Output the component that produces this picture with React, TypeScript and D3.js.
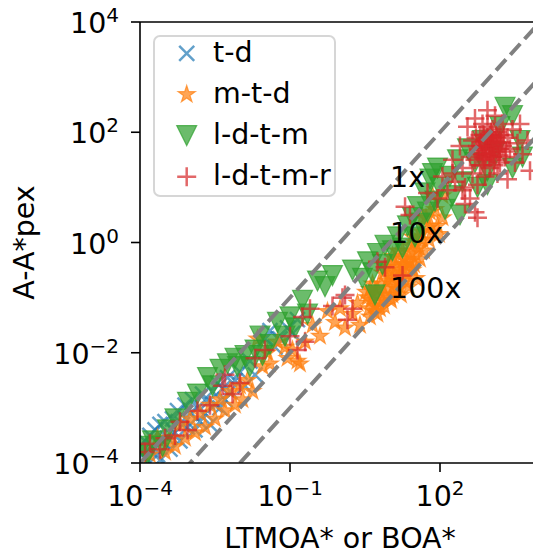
import React from 'react';
import * as d3 from 'd3';

const seriesNames = ['t-d', 'm-t-d', 'l-d-t-m', 'l-d-t-m-r'];
const seriesColors = ['#1f77b4', '#ff7f0e', '#2ca02c', '#d62728'];

// t-d  [x, y]
const tdPoints: [number, number][] = [
  [1.12e-4, 1.41e-4], [1.26e-4, 2.51e-4], [1.41e-4, 1.12e-4], [1.58e-4, 3.16e-4], [1.78e-4, 2.0e-4],
  [2.0e-4, 3.98e-4], [2.24e-4, 1.41e-4], [2.51e-4, 5.01e-4], [2.82e-4, 2.51e-4], [3.16e-4, 5.62e-4],
  [3.55e-4, 2.82e-4], [3.98e-4, 1.78e-4], [4.47e-4, 6.31e-4], [5.01e-4, 3.55e-4], [5.62e-4, 8.91e-4],
  [6.31e-4, 2.51e-4], [7.08e-4, 5.01e-4], [7.94e-4, 1.12e-3], [8.91e-4, 4.47e-4], [1.0e-3, 7.94e-4],
  [1.12e-3, 1.41e-3], [1.26e-3, 3.98e-4], [1.41e-3, 1.0e-3], [1.58e-3, 5.62e-4], [1.78e-3, 1.78e-3],
  [2.0e-3, 7.94e-4], [2.24e-3, 1.26e-3], [2.51e-3, 5.01e-4], [2.82e-3, 2.0e-3], [3.16e-3, 1.12e-3],
  [3.55e-3, 2.82e-3], [3.98e-3, 1.0e-3], [4.47e-3, 2.24e-3], [5.01e-3, 1.41e-3], [5.62e-3, 3.55e-3],
  [6.31e-3, 2.0e-3], [7.94e-3, 3.16e-3], [1.0e-2, 4.47e-3], [1.26e-2, 2.51e-3], [1.58e-2, 7.08e-3],
  [2.0e-2, 3.98e-3], [3.16e-2, 1.78e-2], [3.98e-2, 2.51e-2], [5.01e-2, 1.26e-2], [6.31e-2, 1.78e-2],
  [8.91e-2, 2.82e-2], [0.112, 2.24e-2], [0.141, 3.98e-2], [2.51e-4, 1.12e-4],
];

// m-t-d
const mtdPoints: [number, number][] = [
  [1.58e-4, 1.41e-4], [2.24e-4, 2.82e-4], [3.16e-4, 1.58e-4], [3.98e-4, 2.82e-4], [5.01e-4, 2.0e-4],
  [6.31e-4, 5.01e-4], [7.94e-4, 2.82e-4], [1.0e-3, 6.31e-4], [1.26e-3, 3.55e-4], [1.58e-3, 7.94e-4],
  [2.0e-3, 4.47e-4], [2.51e-3, 1.12e-3], [3.16e-3, 6.31e-4], [3.98e-3, 1.41e-3], [5.01e-3, 8.91e-4],
  [6.31e-3, 2.0e-3], [7.94e-3, 1.12e-3], [1.0e-2, 2.51e-3], [1.12e-2, 1.41e-3], [1.41e-2, 3.16e-3],
  [1.78e-2, 2.0e-3], [2.24e-2, 1.78e-2], [2.82e-2, 5.62e-3], [3.55e-2, 1.0e-2], [3.98e-2, 6.31e-3],
  [5.62e-2, 1.58e-2], [7.94e-2, 1.26e-2], [8.91e-2, 7.94e-3], [0.112, 1.12e-2], [0.141, 7.08e-3],
  [0.158, 6.31e-3], [0.2, 1.58e-2], [0.282, 3.16e-2], [0.398, 2.0e-2], [0.562, 5.62e-2],
  [0.794, 3.55e-2], [1.0, 6.31e-2], [1.26, 2.82e-2], [1.78, 5.01e-2], [2.24, 7.94e-2],
  [2.51, 3.16e-2], [3.55, 0.1], [3.98, 4.47e-2], [4.47, 0.178], [5.01, 7.08e-2],
  [5.62, 0.141], [6.31, 6.31e-2], [7.08, 0.282], [7.94, 0.112], [8.91, 0.2],
  [10.0, 0.398], [10.0, 0.1], [11.2, 0.224], [12.6, 0.501], [14.1, 0.141],
  [15.8, 0.316], [17.8, 0.708], [20.0, 0.2], [22.4, 0.447], [25.1, 0.891],
  [28.2, 0.316], [31.6, 0.631], [35.5, 1.26], [39.8, 0.501], [44.7, 2.82],
  [44.7, 1.12], [56.2, 1.78], [63.1, 3.55], [70.8, 7.08], [89.1, 2.0],
  [112, 2.82], [112, 7.08], [5.01, 0.126], [7.08, 8.91e-2], [8.91, 0.355],
  [12.6, 0.251], [15.8, 0.158], [20.0, 0.398], [25.1, 0.447], [31.6, 1.0],
  [3.98, 0.141], [11.2, 0.562],
  [4.17, 8.91e-2], [4.79, 5.62e-2], [5.25, 0.112], [6.03, 7.94e-2], [6.61, 0.178],
  [7.59, 7.08e-2], [8.32, 0.141], [9.55, 0.251], [10.5, 8.91e-2], [12.0, 0.158],
  [13.2, 0.355], [15.1, 0.2], [16.6, 0.112], [19.1, 0.501], [20.9, 0.282],
  [24.0, 0.158], [26.3, 0.631], [30.2, 0.398], [33.1, 0.224], [38.0, 0.794],
  [41.7, 1.58], [47.9, 0.708], [52.5, 2.82], [60.3, 1.12], [66.1, 2.0],
  [79.4, 3.98], [95.5, 1.41], [3.8, 6.31e-2], [3.31, 0.126], [5.62, 5.01e-2],
  [11.2, 0.112], [17.8, 0.355], [28.2, 1.26], [14.1, 0.708],
];

// l-d-t-m
const ldtmPoints: [number, number][] = [
  [1.12e-4, 2.0e-4], [1.41e-4, 1.41e-4], [1.78e-4, 2.51e-4], [2.82e-4, 2.0e-4], [3.55e-4, 3.98e-4],
  [5.01e-4, 6.31e-4], [8.91e-4, 1.26e-3], [1.41e-3, 1.78e-3], [2.24e-3, 3.55e-3], [2.82e-3, 2.51e-3],
  [3.98e-3, 5.01e-3], [5.62e-3, 6.31e-3], [7.94e-3, 7.94e-3], [8.91e-3, 5.62e-3], [1.26e-2, 8.91e-3],
  [1.58e-2, 5.62e-3], [2.0e-2, 1.12e-2], [2.51e-2, 2.0e-2], [2.82e-2, 8.91e-3], [3.98e-2, 1.41e-2],
  [5.62e-2, 3.55e-2], [7.94e-2, 2.0e-2], [0.1, 4.47e-2], [0.126, 2.82e-2], [0.178, 8.91e-2],
  [0.224, 5.01e-2], [0.355, 0.2], [0.501, 0.158], [0.708, 0.251], [1.78, 0.316],
  [2.82, 0.224], [3.55, 0.447], [4.47, 0.282], [5.01, 0.112], [5.62, 0.631],
  [7.08, 0.398], [7.94, 0.891], [11.2, 0.708], [14.1, 1.26], [17.8, 0.794],
  [22.4, 2.0], [28.2, 2.82], [31.6, 1.26], [35.5, 4.47], [39.8, 2.24],
  [50.1, 7.94], [56.2, 3.55], [63.1, 14.1], [70.8, 17.8], [79.4, 5.62],
  [89.1, 22.4], [100, 10.0], [126, 3.98], [158, 15.8], [178, 7.08],
  [224, 31.6], [251, 3.16], [282, 12.6], [355, 50.1], [501, 28.2],
  [562, 10.0], [708, 70.8], [891, 11.2], [891, 20.0], [1260, 44.7],
  [2000, 282], [2820, 200], [3980, 70.8], [2820, 22.4], [4470, 35.5],
  [1580, 126],
];

// l-d-t-m-r
const ldtmrPoints: [number, number][] = [
  [1.26e-4, 1.58e-4], [1.58e-4, 2.24e-4], [2.51e-4, 1.78e-4], [3.16e-4, 2.82e-4], [5.01e-4, 3.16e-4],
  [6.31e-4, 5.62e-4], [8.91e-4, 3.98e-4], [1.41e-3, 8.91e-4], [2.51e-3, 1.12e-3], [4.47e-3, 2.51e-3],
  [5.01e-3, 3.98e-3], [7.08e-3, 1.78e-3], [1.0e-2, 2.82e-3], [2.0e-2, 7.94e-3], [3.16e-2, 1.12e-2],
  [0.1, 2.0e-2], [0.141, 1.12e-2], [0.2, 1.58e-2], [0.178, 4.47e-2], [0.251, 6.31e-2],
  [0.708, 7.08e-2], [1.12, 0.1], [1.41, 3.98e-2], [1.78, 6.31e-2], [1.26, 0.112],
  [5.62, 0.447], [7.94, 0.355], [17.8, 0.251], [20.0, 4.47], [25.1, 3.16],
  [56.2, 7.94], [89.1, 6.31], [282, 8.91], [316, 5.01], [501, 3.55],
  [178, 17.8], [562, 2.82], [398, 6.31],
  [112, 15.8], [141, 8.91], [178, 31.6], [200, 12.6], [251, 56.2],
  [282, 22.4], [316, 10.0], [355, 126], [398, 35.5], [447, 17.8],
  [447, 70.8], [501, 178], [562, 39.8], [562, 11.2], [631, 89.1],
  [631, 25.1], [708, 56.2], [708, 141], [794, 35.5], [794, 15.8],
  [891, 79.4], [891, 251], [1000, 50.1], [1000, 22.4], [1120, 112],
  [1120, 35.5], [1260, 70.8], [1260, 200], [1410, 44.7], [1410, 17.8],
  [1580, 89.1], [1580, 28.2], [1780, 56.2], [1780, 141], [2000, 35.5],
  [2240, 79.4], [2240, 14.1], [2510, 50.1], [2820, 112], [3160, 28.2],
  [3550, 63.1], [3980, 141], [4470, 39.8], [5620, 70.8], [6310, 20.0],
  [891, 44.7], [1120, 63.1], [708, 39.8], [1260, 31.6], [1000, 89.1],
  [794, 70.8], [1580, 50.1], [562, 56.2], [1410, 100],
  [603, 47.9], [661, 66.1], [759, 33.1], [759, 89.1], [832, 52.5],
  [955, 38.0], [955, 70.8], [1047, 41.7], [1047, 100], [1202, 56.2],
  [1202, 25.1], [1318, 83.2], [1514, 38.0], [1660, 66.1], [501, 31.6],
  [525, 79.4], [1905, 89.1], [2089, 44.7], [891, 126], [708, 25.1],
  [1122, 79.4], [832, 39.8], [1413, 63.1], [631, 56.2],
];

const ratioFactors = [1, 10, 100];
const ratioLabels = ['1x', '10x', '100x'];
const ratioLabelX = [10, 10, 10];
const ratioLabelY = [10, 1, 0.1];
const xTicks = [1e-4, 1e-1, 1e2];
const yTicks = [1e-4, 1e-2, 1, 1e2, 1e4];
const xDomain = [1e-4, 1e4];
const yDomain = [1e-4, 1e4];
const xLabel = 'LTMOA* or BOA*';
const yLabel = 'A-A*pex';

const W = 533;
const H = 554;
const left = 140;
const right = 540;
const top = 22;
const bottom = 463;
const FONT = 'DejaVu Sans';
const FS = 28.5;
const ALPHA = 0.7;

const x = d3.scaleLog().domain(xDomain).range([left, right]);
const y = d3.scaleLog().domain(yDomain).range([bottom, top]);

const starPath = d3.symbol().type(d3.symbolStar).size((9 * 9) / 0.8908130915292852)()!;

function Marker({ kind, cx, cy, color }: { kind: number; cx: number; cy: number; color: string }) {
  const t = `translate(${cx},${cy})`;
  if (kind === 0) {
    const h = 7.5;
    return (
      <path transform={t} d={`M${-h},${-h}L${h},${h}M${-h},${h}L${h},${-h}`} stroke={color}
        strokeOpacity={ALPHA} strokeWidth={2.5} fill="none" />
    );
  }
  if (kind === 1) {
    return (
      <path transform={t} d={starPath} fill={color} fillOpacity={ALPHA} stroke={color}
        strokeOpacity={ALPHA} strokeWidth={1.2} />
    );
  }
  if (kind === 2) {
    const h = 10;
    return (
      <path transform={t} d={`M${-h},${-h}L${h},${-h}L0,${h}Z`} fill={color} fillOpacity={ALPHA}
        stroke={color} strokeOpacity={ALPHA} strokeWidth={1.2} />
    );
  }
  const h = 9.5;
  return (
    <path transform={t} d={`M${-h},0H${h}M0,${-h}V${h}`} stroke={color} strokeOpacity={ALPHA}
      strokeWidth={2.5} fill="none" />
  );
}

function PowText({ v, px, py, anchor }: { v: number; px: number; py: number; anchor: 'end' | 'middle' }) {
  const e = Math.round(Math.log10(v));
  const es = e < 0 ? '\u2212' + Math.abs(e) : String(e);
  return (
    <text x={px} y={py} textAnchor={anchor} fontSize={FS}>
      10<tspan dy={-11} fontSize={20}>{es}</tspan>
    </text>
  );
}

export default function App() {
  const series = [tdPoints, mtdPoints, ldtmPoints, ldtmrPoints];
  const legendTop = 36;
  const legendRow = 41.1;
  const firstBase = 61.7;
  return (
    <svg width={W} height={H} style={{ position: 'absolute', left: 0, top: 0 }} fontFamily={FONT}>
      <rect x={0} y={0} width={W} height={H} fill="#ffffff" />
      <defs>
        <clipPath id="plotclip">
          <rect x={left} y={top} width={right - left} height={bottom - top} />
        </clipPath>
      </defs>
      <g clipPath="url(#plotclip)">
        {series.map((pts, si) => (
          <g key={si}>
            {pts.map((p, i) => (
              <Marker key={i} kind={si} cx={x(p[0])} cy={y(p[1])} color={seriesColors[si]} />
            ))}
          </g>
        ))}
        {ratioFactors.map((k, i) => (
          <line key={i} x1={x(xDomain[0])} y1={y(xDomain[0] / k)} x2={x(xDomain[1])} y2={y(xDomain[1] / k)}
            stroke="#808080" strokeWidth={4} strokeDasharray="14.8 6.4" />
        ))}
      </g>
      {ratioLabels.map((l, i) => (
        <text key={l} x={x(ratioLabelX[i])} y={y(ratioLabelY[i])} fontSize={FS} fill="#000">{l}</text>
      ))}
      <line x1={left} y1={bottom} x2={right} y2={bottom} stroke="#000" strokeWidth={1.6} />
      <line x1={left} y1={top} x2={right} y2={top} stroke="#000" strokeWidth={1.6} />
      <line x1={left} y1={top} x2={left} y2={bottom} stroke="#000" strokeWidth={1.6} />
      <line x1={right} y1={top} x2={right} y2={bottom} stroke="#000" strokeWidth={1.6} />
      {xTicks.map((t) => (
        <g key={t}>
          <line x1={x(t)} x2={x(t)} y1={bottom} y2={bottom + 9} stroke="#000" strokeWidth={1.6} />
          <PowText v={t} px={x(t)} py={506} anchor="middle" />
        </g>
      ))}
      {yTicks.map((t) => (
        <g key={t}>
          <line x1={left - 9} x2={left} y1={y(t)} y2={y(t)} stroke="#000" strokeWidth={1.6} />
          <PowText v={t} px={119} py={y(t) + 11} anchor="end" />
        </g>
      ))}
      <text x={(left + right) / 2} y={548} textAnchor="middle" fontSize={FS}>{xLabel}</text>
      <text transform={`translate(34,${(top + bottom) / 2}) rotate(-90)`} textAnchor="middle" fontSize={FS}>{yLabel}</text>
      <rect x={154} y={legendTop} width={181} height={160} rx={6} ry={6} fill="#ffffff" fillOpacity={0.8}
        stroke="#cccccc" strokeOpacity={0.8} strokeWidth={2} />
      {seriesNames.map((n, i) => (
        <g key={n}>
          <Marker kind={i} cx={186.7} cy={firstBase + i * legendRow - 8.3} color={seriesColors[i]} />
          <text x={213} y={firstBase + i * legendRow} fontSize={FS}>{n}</text>
        </g>
      ))}
    </svg>
  );
}
